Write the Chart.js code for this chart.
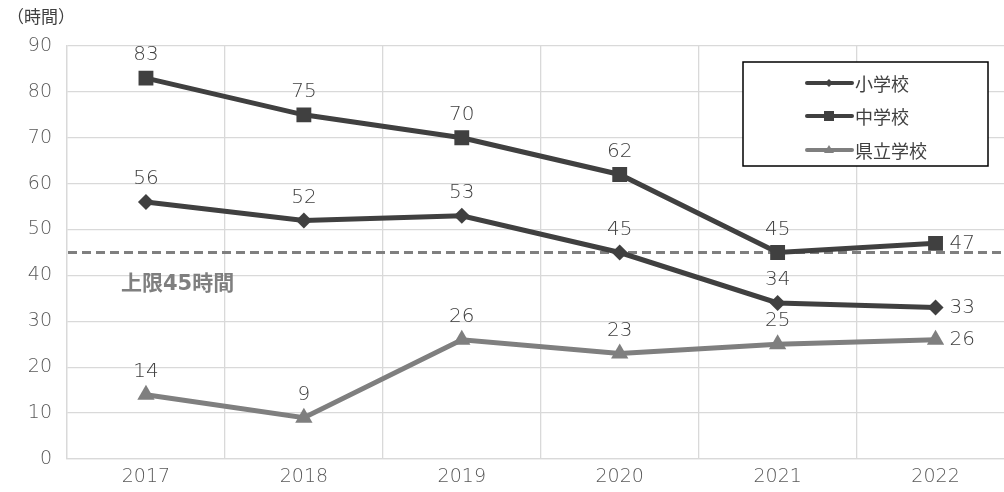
<!DOCTYPE html>
<html><head><meta charset="utf-8">
<script src="https://cdn.jsdelivr.net/npm/chart.js@4/dist/chart.umd.min.js"></script>
<style>html,body{margin:0;padding:0;overflow:hidden;background:#fff;width:1004px;height:492px}#wrap{width:1025px;height:492px}</style>
</head><body><div id="wrap"><canvas id="c" width="1025" height="492"></canvas></div>
<script>
const categories = ['2017','2018','2019','2020','2021','2022'];
const elementary = [56,52,53,45,34,33];
const juniorHigh = [83,75,70,62,45,47];
const prefectural = [14,9,26,23,25,26];
const seriesNames = ['小学校','中学校','県立学校'];
const limitValue = 45;
const limitLabel = '上限45時間';
const yTitle = '（時間）';

const FONT = "'DejaVu Sans', 'Noto Sans CJK JP', sans-serif";
const JFONT = "'Noto Sans CJK JP', sans-serif";
const DARK = '#404040', GRAY = '#7f7f7f';

const overlay = {
  id: 'overlay',
  beforeDatasetsDraw(chart) {
    const {ctx, chartArea, scales:{y}} = chart;
    const yy = y.getPixelForValue(limitValue);
    ctx.save();
    ctx.strokeStyle = GRAY; ctx.lineWidth = 3; ctx.setLineDash([9,5]);
    ctx.beginPath(); ctx.moveTo(chartArea.left+1, yy); ctx.lineTo(chartArea.right, yy); ctx.stroke();
    ctx.setLineDash([]);
    ctx.fillStyle = GRAY; ctx.font = "bold 21px " + FONT; ctx.textAlign='left'; ctx.textBaseline='middle';
    ctx.fillText(limitLabel, 121, y.getPixelForValue(38));
    ctx.restore();
  },
  afterDatasetsDraw(chart) {
    const {ctx} = chart;
    ctx.save();
    ctx.font = "200 20px " + FONT; ctx.fillStyle = DARK; ctx.textBaseline='middle';
    chart.data.datasets.forEach((ds, di) => {
      const meta = chart.getDatasetMeta(di);
      meta.data.forEach((pt, i) => {
        const v = ds.data[i];
        if (i === ds.data.length - 1) {
          ctx.textAlign = 'left';
          ctx.fillText(String(v), pt.x + 14, pt.y);
        } else {
          ctx.textAlign = 'center';
          ctx.fillText(String(v), pt.x, pt.y - 23);
        }
      });
    });
    // y title
    ctx.font = "17px " + JFONT; ctx.textAlign='left'; ctx.fillStyle = DARK;
    ctx.fillText(yTitle, 7, 17);
    // legend
    const lx = 743, ly = 62, lw = 245, lh = 104;
    ctx.fillStyle = '#fff'; ctx.fillRect(lx, ly, lw, lh);
    ctx.strokeStyle = '#000'; ctx.lineWidth = 1.5; ctx.strokeRect(lx, ly, lw, lh);
    const rows = [83, 116, 150];
    chart.data.datasets.forEach((ds, di) => {
      const ry = rows[di];
      ctx.strokeStyle = ds.borderColor; ctx.lineWidth = 4; ctx.lineCap='round';
      ctx.beginPath(); ctx.moveTo(807, ry); ctx.lineTo(852, ry); ctx.stroke();
      ctx.lineCap='butt';
      ctx.fillStyle = ds.borderColor;
      const cx = 829;
      ctx.beginPath();
      if (di === 0) { ctx.moveTo(cx-4, ry); ctx.lineTo(cx, ry-4); ctx.lineTo(cx+4, ry); ctx.lineTo(cx, ry+4); ctx.closePath(); }
      else if (di === 1) { ctx.rect(cx-5, ry-5, 10, 10); }
      else { ctx.moveTo(cx, ry-5); ctx.lineTo(cx+5, ry+3); ctx.lineTo(cx-5, ry+3); ctx.closePath(); }
      ctx.fill();
      ctx.fillStyle = DARK; ctx.font = "18px " + JFONT; ctx.textAlign='left'; ctx.textBaseline='middle';
      ctx.fillText(seriesNames[di], 855, ry+1);
    });
    ctx.restore();
  }
};

new Chart(document.getElementById('c'), {
  type: 'line',
  data: {
    labels: categories,
    datasets: [
      {label: seriesNames[0], data: elementary, borderColor: DARK, backgroundColor: DARK, borderWidth: 5, pointStyle: 'rectRot', pointRadius: 8, pointHoverRadius: 8, pointBorderWidth: 0},
      {label: seriesNames[1], data: juniorHigh, borderColor: DARK, backgroundColor: DARK, borderWidth: 5, pointStyle: 'rect', pointRadius: 10.5, pointHoverRadius: 10.5, pointBorderWidth: 0},
      {label: seriesNames[2], data: prefectural, borderColor: GRAY, backgroundColor: GRAY, borderWidth: 5, pointStyle: 'triangle', pointRadius: 10, pointHoverRadius: 10, pointBorderWidth: 0}
    ]
  },
  options: {
    responsive: false, animation: false, devicePixelRatio: 1,
    layout: {padding: {left: 0, right: 7, top: 46, bottom: 0}},
    plugins: {legend: {display: false}, tooltip: {enabled: false}},
    elements: {line: {tension: 0}},
    scales: {
      x: {
        offset: true,
        grid: {color: '#d9d9d9', lineWidth: 1.3, drawTicks: false, offset: true},
        border: {color: '#d9d9d9', width: 1.3},
        ticks: {color: '#595959', font: {family: FONT, size: 19, weight: '200'}, padding: 7},
        afterFit(s) { s.height = 33; }
      },
      y: {
        min: 0, max: 90,
        grid: {color: '#d9d9d9', lineWidth: 1.3, drawTicks: false},
        border: {color: '#d9d9d9', width: 1.3},
        ticks: {stepSize: 10, color: '#595959', font: {family: FONT, size: 19, weight: '200'}, padding: 15},
        afterFit(s) { s.width = 67; }
      }
    }
  },
  plugins: [overlay]
});
</script></body></html>
